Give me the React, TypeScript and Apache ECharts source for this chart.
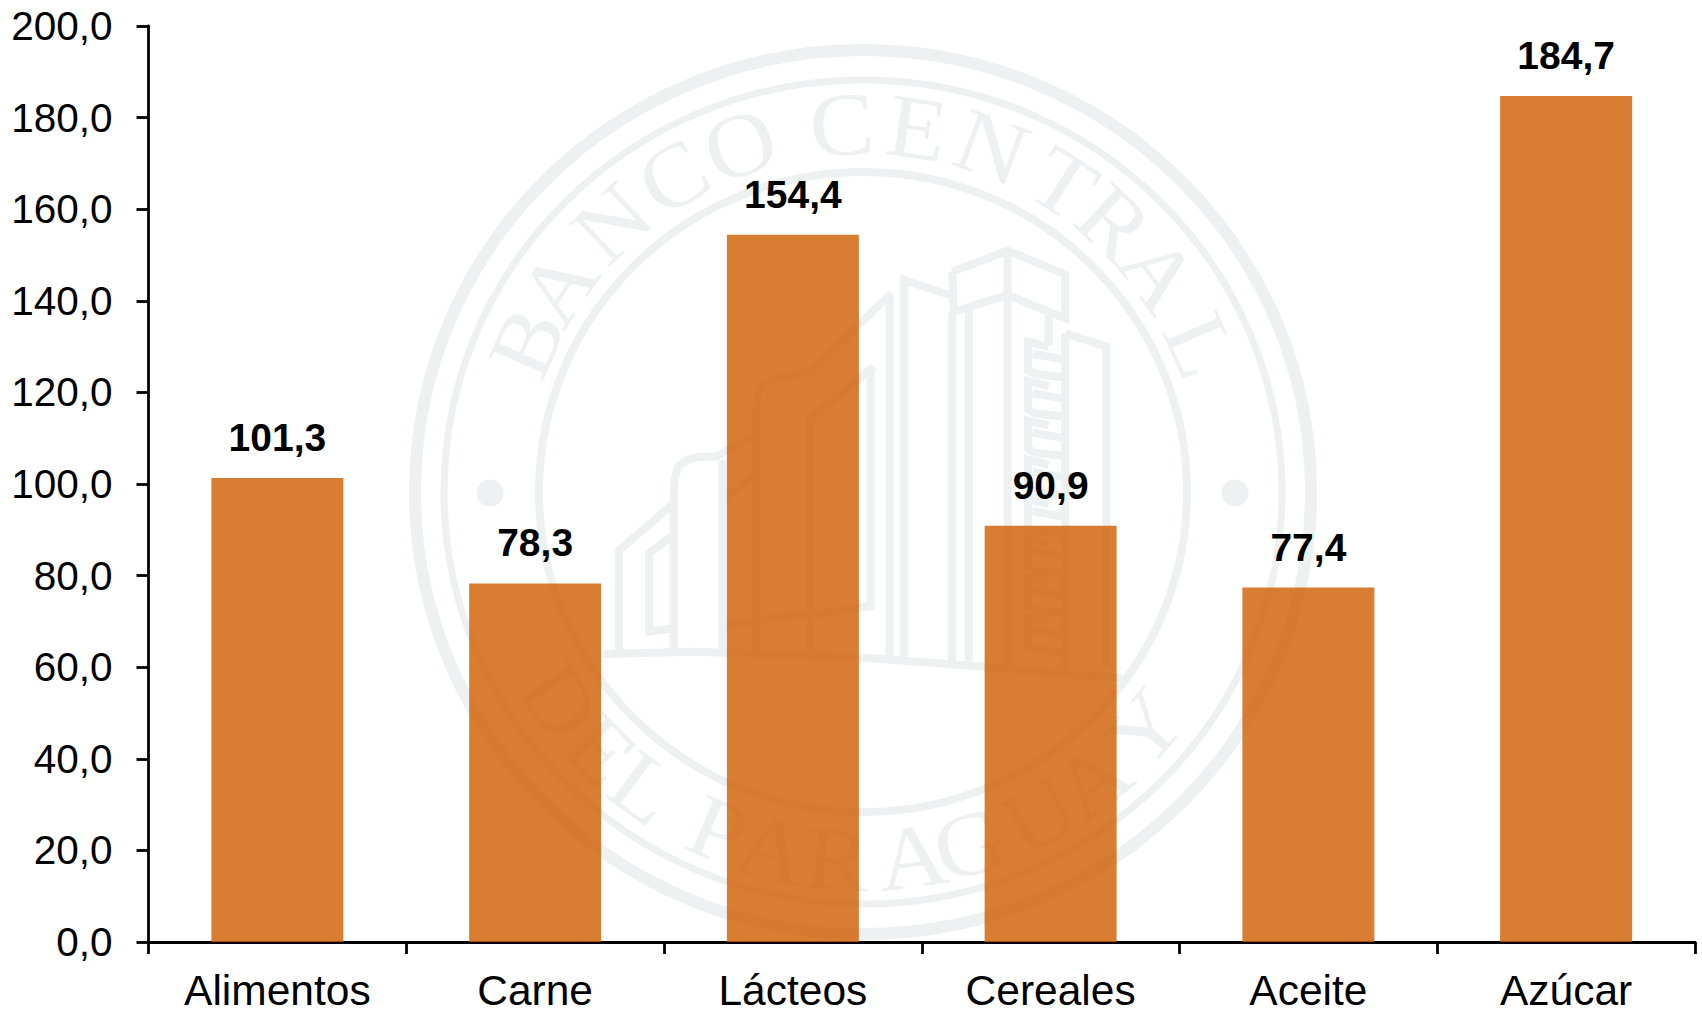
import React, { useEffect, useRef } from "react";
import * as echarts from "echarts";

const categories = ["Alimentos", "Carne", "Lácteos", "Cereales", "Aceite", "Azúcar"];
const values = [101.3, 78.3, 154.4, 90.9, 77.4, 184.7];

const SEAL = "#edf1f1";
const SEAL_X = 863;
const SEAL_Y = 492;
const TEXT_R = 368;

const topLetters = "BANCOCENTRAL".split("");
const topAngles = [-66, -56, -43, -31, -19.5, -3.3, 8.5, 20.5, 33, 43, 53.5, 66.6];
const bottomLetters = "DELPARAGUAY".split("");
const bottomAngles = [-55.4, -45.5, -36.5, -23.2, -14.3, -4, 7.7, 16.8, 28.6, 38.4, 50];

const buildingLines: number[][][] = [
  [[1052, 125], [1213, 62], [1380, 133], [1380, 265], [1213, 195], [1056, 245], [1052, 125]],
  [[1213, 62], [1213, 1305]],
  [[1045, 195], [912, 150], [912, 1280]],
  [[1052, 245], [1052, 1292]],
  [[1100, 240], [1100, 1295]],
  [[1332, 245], [1332, 345]],
  [[1380, 310], [1500, 350], [1500, 1315]],
  [[1380, 310], [1380, 1315]],
  [[875, 190], [640, 425], [540, 448], [505, 465], [488, 490], [485, 520], [485, 1280]],
  [[870, 190], [870, 1280]],
  [[825, 410], [640, 565], [640, 1280]],
  [[815, 410], [815, 1128], [640, 1155]],
  [[485, 610], [365, 680], [320, 680], [285, 688], [258, 708], [246, 745], [243, 790], [243, 1260]],
  [[385, 690], [385, 1262]],
  [[485, 730], [385, 810]],
  [[243, 820], [85, 960], [85, 1265]],
  [[243, 915], [172, 970], [172, 1205], [243, 1195]],
  [[385, 1185], [640, 1150]],
  [[40, 1272], [300, 1265], [780, 1282], [1145, 1310], [1480, 1340], [1545, 1345]],
];
const ornamentLevels = [0, 118, 236, 354, 472, 590, 708, 826];

function zoomPoint(p: number[]) {
  return [590 + p[0] / 2.904, 230 + p[1] / 3];
}

function sealGraphics() {
  const out: any[] = [];
  const ring = (rx: number, ry: number, w: number) => ({
    type: "ellipse",
    silent: true,
    shape: { cx: SEAL_X, cy: SEAL_Y, rx, ry },
    style: { fill: "none", stroke: SEAL, lineWidth: w },
  });
  out.push(ring(448, 442, 12), ring(419, 412, 7), ring(324, 320, 8));
  [490, 1235].forEach((cx) =>
    out.push({
      type: "circle",
      silent: true,
      shape: { cx, cy: 493, r: 13.5 },
      style: { fill: SEAL },
    })
  );
  const letter = (ch: string, deg: number, bottom: boolean) => {
    const a = (deg * Math.PI) / 180;
    const dx = TEXT_R * Math.sin(a);
    const dy = (bottom ? 1 : -1) * TEXT_R * Math.cos(a);
    out.push({
      type: "text",
      silent: true,
      x: SEAL_X + dx,
      y: SEAL_Y + dy,
      rotation: bottom ? a : -a,
      scaleX: 1.08,
      style: {
        text: ch,
        fill: SEAL,
        font: "90px 'Liberation Serif'",
        align: "center",
        verticalAlign: "middle",
      },
    });
  };
  topLetters.forEach((c, i) => letter(c, topAngles[i], false));
  bottomLetters.forEach((c, i) => letter(c, bottomAngles[i], true));
  const line = (pts: number[][]) =>
    out.push({
      type: "polyline",
      silent: true,
      shape: { points: pts.map(zoomPoint) },
      style: { fill: "none", stroke: SEAL, lineWidth: 8, lineJoin: "miter" },
    });
  buildingLines.forEach(line);
  ornamentLevels.forEach((o) => {
    line([[1332, 350 + o], [1272, 335 + o], [1272, 420 + o], [1292, 432 + o], [1375, 442 + o]]);
    line([[1285, 372 + o], [1375, 388 + o]]);
  });
  return out;
}

export default function App() {
  const ref = useRef<HTMLDivElement>(null);
  useEffect(() => {
    document.body.style.margin = "0";
    const chart = echarts.init(ref.current!, undefined, { renderer: "svg" });
    chart.setOption({
      animation: false,
      backgroundColor: "#ffffff",
      textStyle: { fontFamily: "'Liberation Sans'" },
      graphic: { elements: sealGraphics() },
      grid: { left: 148.5, right: 7, top: 26, bottom: 71, containLabel: false },
      xAxis: {
        type: "category",
        data: categories,
        axisLine: { show: true, lineStyle: { color: "#000000", width: 2.8 } },
        axisTick: { show: true, alignWithLabel: false, length: 12, lineStyle: { color: "#000000", width: 2.8 } },
        axisLabel: { color: "#000000", fontSize: 42.5, margin: 27, interval: 0, fontFamily: "'Liberation Sans'" },
      },
      yAxis: {
        type: "value",
        min: 0,
        max: 200,
        interval: 20,
        splitLine: { show: false },
        axisLine: { show: true, lineStyle: { color: "#000000", width: 2.8 } },
        axisTick: { show: true, length: 12, lineStyle: { color: "#000000", width: 2.8 } },
        axisLabel: {
          color: "#000000",
          fontSize: 40.5,
          margin: 36,
          padding: [0, 0, 2, 0],
          fontFamily: "'Liberation Sans'",
          formatter: (v: number) => v.toFixed(1).replace(".", ","),
        },
      },
      series: [
        {
          type: "bar",
          data: values,
          barWidth: 132,
          itemStyle: { color: "rgba(207,93,0,0.8)" },
          label: {
            show: true,
            position: "top",
            distance: 21,
            color: "#000000",
            fontSize: 39,
            fontWeight: "bold",
            fontFamily: "'Liberation Sans'",
            formatter: (p: any) => p.value.toFixed(1).replace(".", ","),
          },
        },
      ],
    });
    return () => chart.dispose();
  }, []);
  return (
    <div
      ref={ref}
      style={{ position: "absolute", left: 0, top: 0, width: 1702, height: 1013, overflow: "hidden" }}
    />
  );
}
